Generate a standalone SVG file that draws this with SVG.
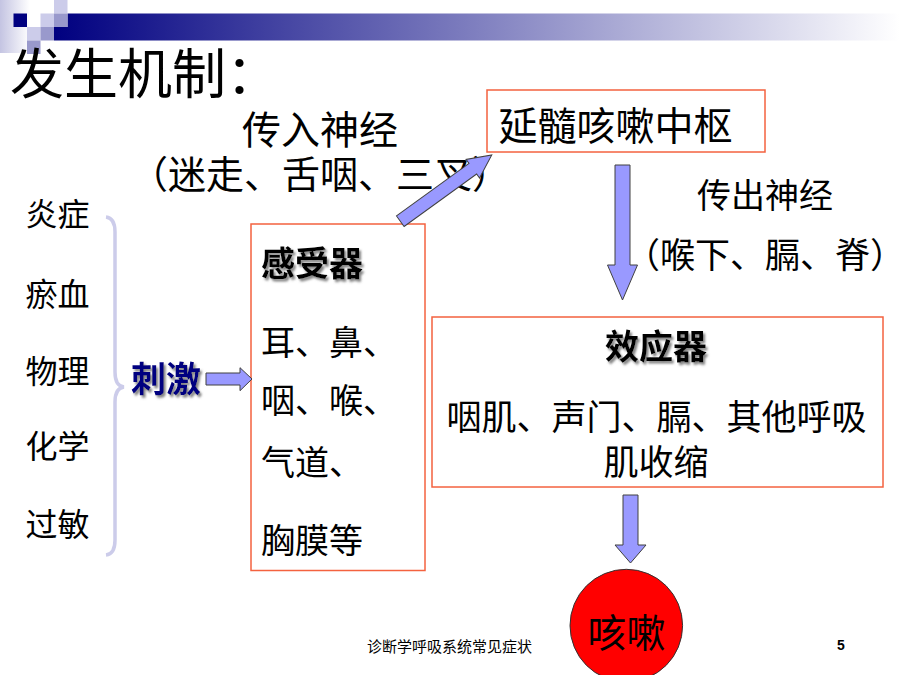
<svg xmlns="http://www.w3.org/2000/svg" width="900" height="675" viewBox="0 0 900 675">
  <defs>
    <linearGradient id="barGrad" gradientUnits="userSpaceOnUse" x1="54" y1="0" x2="900" y2="0">
      <stop offset="0" stop-color="#000080"/>
      <stop offset="1" stop-color="#ffffff"/>
    </linearGradient>
    <linearGradient id="stripGrad" gradientUnits="userSpaceOnUse" x1="0" y1="0" x2="30" y2="0">
      <stop offset="0" stop-color="#c4c4e2"/>
      <stop offset="1" stop-color="#ffffff"/>
    </linearGradient>
    <filter id="shadow" x="-10%" y="-20%" width="130%" height="150%">
      <feDropShadow dx="2" dy="2.5" stdDeviation="0.8" flood-color="#777777" flood-opacity="0.9"/>
    </filter>
    <style>
      .t { font-family: "Noto Sans CJK SC", "Noto Sans", sans-serif; fill: #000000; }
      .box { fill: #ffffff; stroke: #f4623f; stroke-width: 1.5; }
      .arrow { fill: #9999ff; stroke: #404040; stroke-width: 1; stroke-linejoin: miter; }
      .bold { font-weight: bold; filter: url(#shadow); }
    </style>
  </defs>

  <rect width="900" height="675" fill="#ffffff"/>

  <!-- slide decoration -->
  <g id="decoration">
    <rect x="0" y="0" width="30" height="53" fill="url(#stripGrad)"/>
    <rect x="54" y="27" width="846" height="13.5" fill="url(#barGrad)"/>
    <rect x="67.5" y="13.5" width="832.5" height="13.5" fill="url(#barGrad)"/>
    <rect x="13.5" y="13.5" width="13.5" height="13.5" fill="#000080"/>
    <rect x="54" y="0" width="13.5" height="13.5" fill="#ccccea"/>
    <rect x="40.5" y="13.5" width="13.5" height="13.5" fill="#ccccea"/>
    <rect x="27" y="27" width="13.5" height="13.5" fill="#ccccea"/>
    <rect x="54" y="13.5" width="13.5" height="13.5" fill="#9999cc"/>
    <rect x="40.5" y="27" width="13.5" height="13.5" fill="#9999cc"/>
    <rect x="27" y="40.5" width="13.5" height="13.5" fill="#9999cc"/>
  </g>

  <text id="title" class="t" x="10" y="94" font-size="54">发生机制：</text>

  <g id="afferent-label">
    <text class="t" x="320" y="144" font-size="39" text-anchor="middle">传入神经</text>
    <text class="t" x="320" y="188" font-size="38" text-anchor="middle">（迷走、舌咽、三叉）</text>
  </g>

  <g id="efferent-label">
    <text class="t" x="765" y="208" font-size="34" text-anchor="middle">传出神经</text>
    <text class="t" x="765" y="268" font-size="35" text-anchor="middle">（喉下、膈、脊）</text>
  </g>

  <g id="causes">
    <text class="t" x="57.5" y="226" font-size="32" text-anchor="middle">炎症</text>
    <text class="t" x="57.5" y="306" font-size="32" text-anchor="middle">瘀血</text>
    <text class="t" x="57.5" y="383" font-size="32" text-anchor="middle">物理</text>
    <text class="t" x="57.5" y="458" font-size="32" text-anchor="middle">化学</text>
    <text class="t" x="57.5" y="536" font-size="32" text-anchor="middle">过敏</text>
    <path d="M106,217 Q115,218 115,232 L115,372 Q115,386 124,387 Q115,388 115,402 L115,540 Q115,554 106,555" fill="none" stroke="#ccccea" stroke-width="3.5"/>
  </g>

  <g id="stimulus">
    <text class="t bold" x="166" y="392" font-size="35" text-anchor="middle" style="fill:#000080">刺激</text>
  </g>

  <g id="receptor">
    <rect class="box" x="251" y="224" width="174" height="346.5"/>
    <text class="t bold" x="261" y="276" font-size="34">感受器</text>
    <text class="t" x="261" y="355" font-size="34">耳、鼻、</text>
    <text class="t" x="261" y="413" font-size="34">咽、喉、</text>
    <text class="t" x="261" y="475" font-size="34">气道、</text>
    <text class="t" x="261" y="553" font-size="34">胸膜等</text>
  </g>

  <g id="center">
    <rect class="box" x="487" y="90" width="278" height="62"/>
    <text class="t" x="615.5" y="140" font-size="39" text-anchor="middle">延髓咳嗽中枢</text>
  </g>

  <g id="effector">
    <rect class="box" x="432" y="317" width="451" height="170"/>
    <text class="t bold" x="656" y="359" font-size="34" text-anchor="middle">效应器</text>
    <text class="t" x="656.5" y="429.5" font-size="35" text-anchor="middle">咽肌、声门、膈、其他呼吸</text>
    <text class="t" x="656" y="474.5" font-size="35" text-anchor="middle">肌收缩</text>
  </g>

  <g id="cough">
    <circle cx="626.3" cy="625.6" r="56.3" fill="#ff0000" stroke="#333333" stroke-width="1"/>
    <text class="t" x="626.5" y="647" font-size="39" text-anchor="middle">咳嗽</text>
  </g>

  <g id="connectors">
    <polygon class="arrow" points="206,373 240,373 240,367.7 252,379 240,390.7 240,385 206,385"/>
    <polygon class="arrow" transform="translate(400.3,221.2) rotate(-35.9)" points="0,-6.5 89.5,-6.5 89.5,-11.5 112.9,0 89.5,11.5 89.5,6.5 0,6.5"/>
    <polygon class="arrow" points="615,165 630,165 630,265 637.5,265 622.5,300 607.5,265 615,265"/>
    <polygon class="arrow" points="623,495 638,495 638,545 646,545 630.5,563 615,545 623,545"/>
  </g>

  <g id="footer">
    <text class="t" x="367" y="652" font-size="15">诊断学呼吸系统常见症状</text>
    <text x="837" y="650" font-size="14" font-weight="bold" font-family="Liberation Sans, Arial, sans-serif">5</text>
  </g>
</svg>
